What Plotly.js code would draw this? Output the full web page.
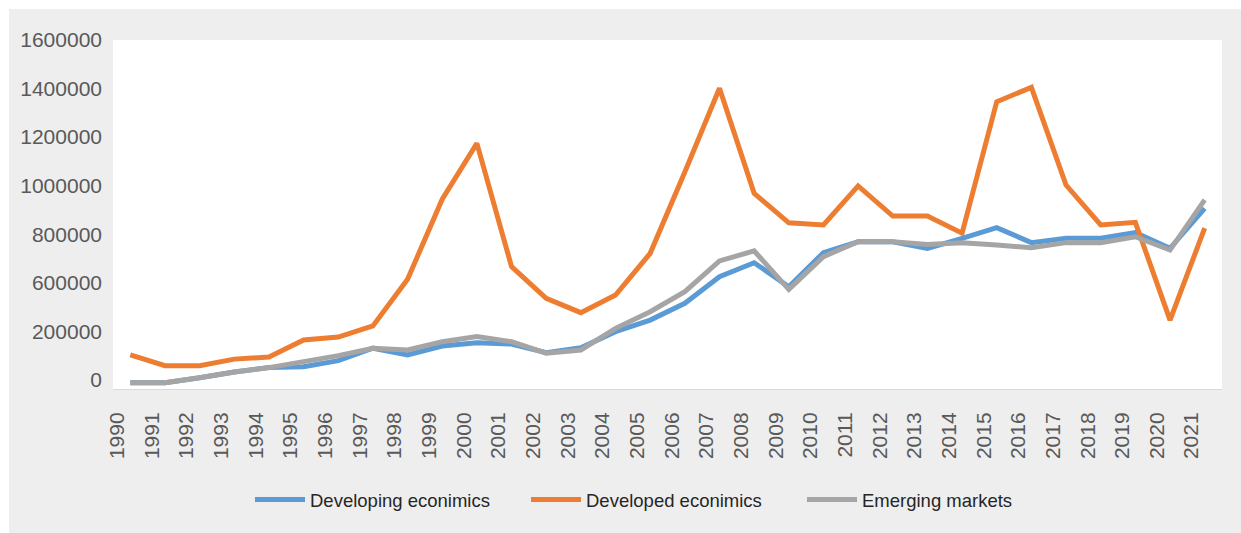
<!DOCTYPE html>
<html>
<head>
<meta charset="utf-8">
<script src="https://cdn.plot.ly/plotly-3.0.1.min.js"></script>
<style>
  html, body { margin: 0; padding: 0; background: #ffffff; }
  #chart { position: absolute; left: 9px; top: 9px; width: 1232px; height: 524px; }
</style>
</head>
<body>
<div id="chart"></div>
<script>
const years = ["1990","1991","1992","1993","1994","1995","1996","1997","1998","1999","2000","2001","2002","2003","2004","2005","2006","2007","2008","2009","2010","2011","2012","2013","2014","2015","2016","2017","2018","2019","2020","2021"];

const developing = [29000, 29000, 52000, 78000, 98000, 102000, 130000, 187000, 156000, 197000, 212000, 206000, 166000, 189000, 263000, 316000, 393000, 515000, 579000, 469000, 625000, 675000, 675000, 645000, 691000, 740000, 671000, 691000, 691000, 717000, 645000, 828000];

const developed = [156000, 107000, 107000, 137000, 147000, 225000, 238000, 289000, 503000, 870000, 1126000, 561000, 416000, 350000, 431000, 622000, 995000, 1379000, 897000, 762000, 752000, 931000, 793000, 793000, 714000, 1317000, 1383000, 935000, 752000, 764000, 316000, 737000];

const emerging = [29000, 29000, 52000, 78000, 98000, 125000, 153000, 187000, 179000, 217000, 240000, 217000, 164000, 179000, 278000, 354000, 446000, 587000, 633000, 457000, 607000, 675000, 675000, 663000, 671000, 660000, 648000, 671000, 671000, 698000, 637000, 867000];

const seriesNames = ["Developing econimics", "Developed econimics", "Emerging markets"];
const seriesColors = ["#5B9BD5", "#ED7D31", "#A5A5A5"];

const yTickText = ["0", "200000", "600000", "800000", "1000000", "1200000", "1400000", "1600000"];
const yTickVals = [41000, 264000, 487000, 709000, 932000, 1155000, 1378000, 1600000];

const FONT = '"Liberation Sans", Arial, sans-serif';

const allSeries = [developing, developed, emerging];
const traces = allSeries.map((vals, i) => ({
  type: 'scatter',
  mode: 'lines',
  x: years,
  y: vals,
  name: seriesNames[i],
  line: { color: seriesColors[i], width: 5, shape: 'linear' },
  hoverinfo: 'x+y+name'
}));

const layout = {
  width: 1232,
  height: 524,
  paper_bgcolor: '#EEEEEE',
  plot_bgcolor: '#FFFFFF',
  margin: { l: 104, r: 19, t: 31, b: 144, pad: 0, autoexpand: false },
  font: { family: FONT, size: 21, color: '#595959' },
  showlegend: true,
  legend: {
    orientation: 'h',
    xref: 'container', yref: 'container',
    x: 241 / 1232, xanchor: 'left',
    y: 33 / 524, yanchor: 'middle',
    font: { family: FONT, size: 18.5, color: '#262626' },
    bgcolor: 'rgba(0,0,0,0)',
    traceorder: 'normal',
    entrywidth: 211,
    entrywidthmode: 'pixels',
    itemwidth: 50
  },
  xaxis: {
    type: 'category',
    range: [-0.5, 31.5],
    automargin: false,
    showgrid: false,
    zeroline: false,
    showline: true,
    linecolor: '#D9D9D9',
    linewidth: 1,
    ticks: '',
    tickangle: -90,
    ticklabelshift: -13,
    ticklabelstandoff: 14,
    tickfont: { family: FONT, size: 21, color: '#595959' },
    fixedrange: true
  },
  yaxis: {
    range: [0, 1600000],
    automargin: false,
    showgrid: false,
    zeroline: false,
    showline: false,
    ticks: '',
    tickmode: 'array',
    tickvals: yTickVals,
    ticktext: yTickText,
    ticklabelstandoff: 10,
    tickfont: { family: FONT, size: 21, color: '#595959' },
    fixedrange: true
  }
};

Plotly.newPlot('chart', traces, layout, { displayModeBar: false, staticPlot: true });
</script>
</body>
</html>
